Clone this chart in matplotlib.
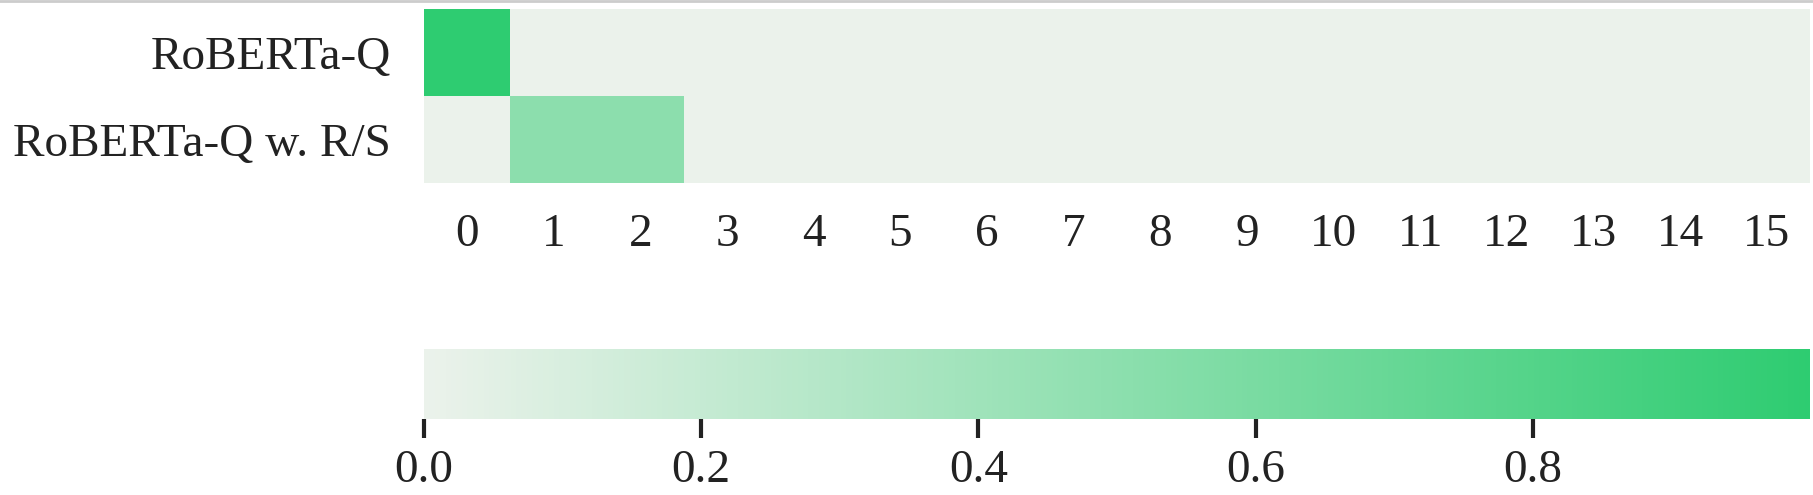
import numpy as np
import matplotlib
matplotlib.use('Agg')
import matplotlib.pyplot as plt
from matplotlib.colors import LinearSegmentedColormap
from matplotlib.lines import Line2D

# dane
models = ['RoBERTa-Q', 'RoBERTa-Q w. R/S']
layers = [str(i) for i in range(16)]
row_q = [1.0, 0, 0, 0, 0, 0, 0, 0, 0, 0, 0, 0, 0, 0, 0, 0]
row_rs = [0, 0.5, 0.5, 0, 0, 0, 0, 0, 0, 0, 0, 0, 0, 0, 0, 0]
cbar_ticks = [0.0, 0.2, 0.4, 0.6, 0.8]

plt.rcParams['font.family'] = ['Liberation Serif', 'DejaVu Serif']

W, H = 1813, 495
fig = plt.figure(figsize=(W / 100, H / 100), dpi=100)

cmap = LinearSegmentedColormap.from_list('zielony', ['#ebf2eb', '#2ecc71'])
data = np.array([row_q, row_rs])

ax = fig.add_axes([424 / W, 1 - 183 / H, (1810 - 424) / W, (183 - 9) / H])
im = ax.imshow(data, cmap=cmap, vmin=0, vmax=1, aspect='auto', interpolation='nearest')
ax.set_xticks(range(len(layers)))
ax.set_xticklabels(layers)
ax.set_yticks(range(len(models)))
ax.set_yticklabels(models)
ax.tick_params(axis='both', length=0, labelsize=34, colors='#222222')
ax.tick_params(axis='x', pad=22)
ax.tick_params(axis='y', pad=24)
for s in ax.spines.values():
    s.set_visible(False)

cax = fig.add_axes([424 / W, 1 - 419 / H, (1810 - 424) / W, (419 - 349) / H])
cb = fig.colorbar(im, cax=cax, orientation='horizontal')
cb.set_ticks(cbar_ticks)
cb.outline.set_visible(False)
cax.tick_params(length=14, width=3, labelsize=34, color='#222222', labelcolor='#222222', pad=8)

# cienka linia na gorze
fig.add_artist(Line2D([0, 1], [1 - 1 / H, 1 - 1 / H], color='#cccccc', linewidth=2))

fig.savefig('out.png', dpi=100)
